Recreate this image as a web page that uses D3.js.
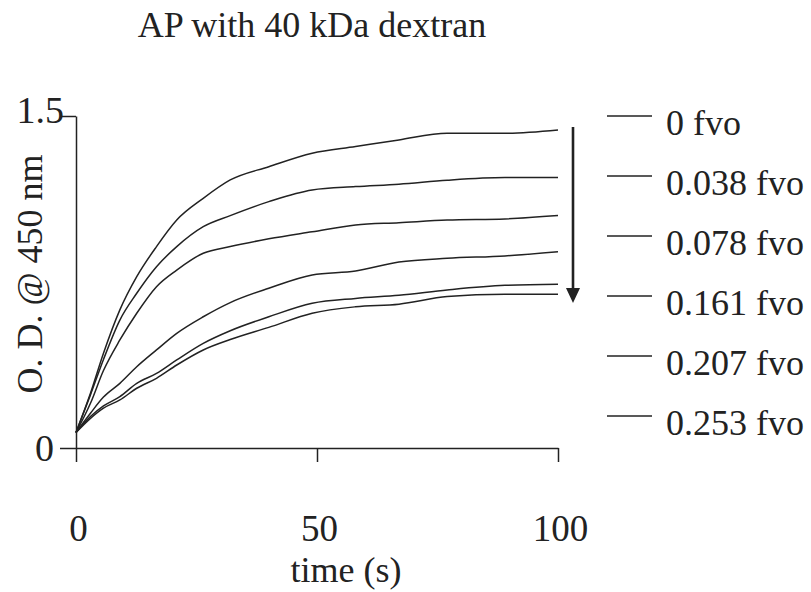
<!DOCTYPE html>
<html>
<head>
<meta charset="utf-8">
<script src="https://cdn.jsdelivr.net/npm/d3@7"></script>
<style>
  html, body { margin: 0; padding: 0; background: #fff; }
  svg text { font-family: "Liberation Serif", "Times New Roman", serif; fill: #222; }
</style>
</head>
<body>
<svg id="chart" width="811" height="592"></svg>
<script>
// ---- data ----
const times = [0, 3, 5.7, 9.1, 12.6, 16.7, 20.9, 26.4, 32, 40, 49, 58, 67, 77, 89, 100];
const od_0fvo     = [0.07, 0.247, 0.428, 0.624, 0.774, 0.910, 1.030, 1.128, 1.211, 1.271, 1.332, 1.362, 1.392, 1.422, 1.422, 1.437];
const od_0038fvo  = [0.07, 0.240, 0.400, 0.578, 0.699, 0.819, 0.910, 1.000, 1.050, 1.113, 1.166, 1.181, 1.192, 1.210, 1.222, 1.222];
const od_0078fvo  = [0.07, 0.202, 0.350, 0.488, 0.609, 0.729, 0.804, 0.880, 0.910, 0.945, 0.977, 1.008, 1.018, 1.030, 1.035, 1.050];
const od_0161fvo  = [0.07, 0.157, 0.230, 0.292, 0.367, 0.443, 0.518, 0.593, 0.657, 0.722, 0.782, 0.800, 0.840, 0.857, 0.868, 0.887];
const od_0207fvo  = [0.07, 0.142, 0.190, 0.232, 0.292, 0.337, 0.398, 0.473, 0.530, 0.593, 0.654, 0.676, 0.690, 0.714, 0.735, 0.740];
const od_0253fvo  = [0.07, 0.134, 0.180, 0.217, 0.270, 0.315, 0.375, 0.443, 0.490, 0.545, 0.609, 0.638, 0.650, 0.684, 0.695, 0.695];
const seriesValues = [od_0fvo, od_0038fvo, od_0078fvo, od_0161fvo, od_0207fvo, od_0253fvo];
const legendLabels = ["0 fvo", "0.038 fvo", "0.078 fvo", "0.161 fvo", "0.207 fvo", "0.253 fvo"];
const xTicks = [0, 50, 100];
const yTicks = [0, 1.5];
const titleText = "AP with 40 kDa dextran";
const xTitle = "time (s)";
const yTitle = "O. D. @ 450 nm";

// ---- layout ----
const svg = d3.select("#chart");
const ink = "#222";
const x = d3.scaleLinear().domain([0, 100]).range([76, 558]);
const y = d3.scaleLinear().domain([0, 1.5]).range([448, 116]);

// title
svg.append("text").attr("x", 312).attr("y", 37).attr("text-anchor", "middle")
  .attr("font-size", 36).text(titleText);

// x axis
const gx = svg.append("g").attr("transform", "translate(0,448)")
  .call(d3.axisBottom(x).tickValues(xTicks).tickSize(14).tickSizeOuter(0).tickFormat(d3.format("d")));
gx.select(".domain").attr("stroke", ink).attr("stroke-width", 1.5);
gx.selectAll(".tick line").attr("stroke", ink).attr("stroke-width", 1.5);
gx.selectAll(".tick text").attr("font-size", 37).attr("font-family", "Liberation Serif")
  .attr("fill", ink).attr("y", 0).attr("dy", 0)
  .attr("transform", "translate(2,93)");

// y axis
const gy = svg.append("g").attr("transform", "translate(76,0)")
  .call(d3.axisLeft(y).tickValues(yTicks).tickSize(16).tickSizeOuter(0).tickFormat(d => d === 0 ? "0" : d3.format(".1f")(d)));
gy.select(".domain").attr("stroke", ink).attr("stroke-width", 1.5);
gy.selectAll(".tick line").attr("stroke", ink).attr("stroke-width", 1.5);
gy.selectAll(".tick text").attr("font-size", 38).attr("font-family", "Liberation Serif")
  .attr("fill", ink).attr("dy", 0)
  .attr("x", d => d === 0 ? -22 : -12)
  .attr("y", d => d === 0 ? 12 : 6);

// axis titles
svg.append("text").attr("x", 346).attr("y", 582).attr("text-anchor", "middle")
  .attr("font-size", 36).text(xTitle);
svg.append("text").attr("transform", "translate(42,274) rotate(-90)")
  .attr("text-anchor", "middle").attr("font-size", 36).text(yTitle);

// curves
const line = d3.line().x((d, i) => x(times[i])).y(d => y(d)).curve(d3.curveMonotoneX);
svg.append("g").selectAll("path").data(seriesValues).join("path")
  .attr("d", line).attr("fill", "none").attr("stroke", ink).attr("stroke-width", 1.5);

// arrow
svg.append("line").attr("x1", 573).attr("x2", 573).attr("y1", 127).attr("y2", 290)
  .attr("stroke", ink).attr("stroke-width", 2.6);
svg.append("path").attr("d", "M566,288 L580,288 L573,303 Z").attr("fill", ink);

// legend
const lg = svg.append("g");
legendLabels.forEach((lab, i) => {
  const ly = 116 + i * 60;
  lg.append("line").attr("x1", 607).attr("x2", 652).attr("y1", ly).attr("y2", ly)
    .attr("stroke", ink).attr("stroke-width", 1.5);
  lg.append("text").attr("x", 666).attr("y", ly + 19).attr("font-size", 36).text(lab);
});
</script>
</body>
</html>
